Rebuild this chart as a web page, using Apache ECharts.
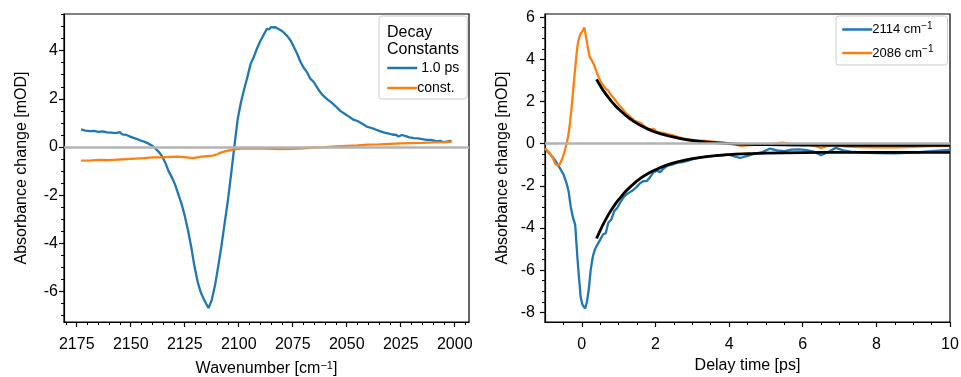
<!DOCTYPE html>
<html><head><meta charset="utf-8">
<script src="https://cdn.jsdelivr.net/npm/echarts@6/dist/echarts.min.js"></script>
<style>html,body{margin:0;padding:0;background:#fff}#c{width:961px;height:377px}</style>
</head><body><div id="c"></div>
<script>
// ---- Left panel: decay-associated spectra ----
const specWn = [2173,2171,2169,2167,2165,2163,2161,2159,2157,2155,2154,2152,2150,2148,2146,2144,2142,2140,2138.5,2137,2135.5,2134,2132.5,2131,2129.5,2128,2126.5,2125,2123.5,2122,2120.5,2119,2117.5,2116,2114,2112.5,2111,2109.5,2108,2106.5,2105,2103.5,2102,2100.5,2099,2097.5,2096,2094.5,2093,2091.5,2090,2088.5,2087,2086,2085,2084,2083,2082,2080.5,2079,2077.5,2076,2074.5,2073,2071.5,2070,2068.5,2067,2065.5,2064,2062.5,2061,2059,2057,2055,2053,2051,2049,2047,2045,2043,2041,2039,2037,2035,2033,2031,2029,2027,2026,2024.5,2023,2021,2019,2017,2015,2013,2011,2009.5,2008,2006.5,2005,2003,2001.5];
const spec1ps = [0.73,0.68,0.66,0.67,0.63,0.65,0.61,0.60,0.58,0.62,0.53,0.50,0.42,0.36,0.29,0.23,0.15,0.05,-0.07,-0.20,-0.38,-0.65,-1.0,-1.25,-1.55,-1.95,-2.35,-2.85,-3.45,-4.15,-4.95,-5.6,-6.05,-6.35,-6.68,-6.35,-5.75,-4.95,-4.10,-3.15,-2.20,-1.10,0.05,1.15,1.85,2.40,2.90,3.45,3.75,4.10,4.40,4.65,4.90,4.88,4.98,4.96,4.97,4.92,4.85,4.74,4.60,4.42,4.15,3.88,3.55,3.30,3.12,2.85,2.72,2.52,2.30,2.14,1.98,1.84,1.68,1.50,1.38,1.26,1.14,1.08,0.98,0.86,0.80,0.74,0.67,0.61,0.57,0.52,0.50,0.44,0.50,0.46,0.40,0.37,0.36,0.33,0.30,0.30,0.27,0.24,0.25,0.20,0.24,0.26];
const constWn = [2173,2168,2164,2160,2156,2152,2148,2144,2140,2136,2132,2128,2124,2121,2118,2115,2112,2110,2108,2106,2104,2102,2099,2096,2092,2088,2084,2080,2076,2072,2068,2064,2060,2055,2050,2045,2040,2035,2030,2025,2020,2015,2010,2005,2001.5];
const specConst = [-0.56,-0.55,-0.53,-0.54,-0.52,-0.50,-0.48,-0.46,-0.43,-0.43,-0.41,-0.40,-0.43,-0.46,-0.41,-0.38,-0.36,-0.30,-0.22,-0.17,-0.13,-0.10,-0.07,-0.06,-0.06,-0.07,-0.08,-0.09,-0.08,-0.06,-0.04,-0.02,0.00,0.03,0.05,0.07,0.10,0.11,0.13,0.15,0.16,0.17,0.19,0.20,0.22];
const specNames = ['1.0 ps', 'const.'];

// ---- Right panel: kinetic traces ----
const delay2114 = [-1.0,-0.86,-0.72,-0.6,-0.5,-0.42,-0.36,-0.3,-0.24,-0.18,-0.12,-0.08,-0.03,0.02,0.09,0.14,0.19,0.24,0.3,0.36,0.42,0.5,0.58,0.65,0.72,0.8,0.88,0.96,1.04,1.13,1.22,1.31,1.4,1.49,1.58,1.67,1.76,1.85,1.95,2.04,2.13,2.22,2.31,2.45,2.6,2.75,2.9,3.05,3.2,3.4,3.6,3.8,4.0,4.15,4.3,4.5,4.7,4.9,5.1,5.3,5.5,5.7,5.9,6.1,6.3,6.5,6.7,6.9,7.1,7.3,7.6,8.0,8.5,9.0,9.5,10.0];
const trace2114 = [-0.25,-0.5,-0.8,-1.15,-1.45,-1.85,-2.25,-3.0,-3.5,-3.85,-5.4,-6.3,-7.3,-7.65,-7.82,-7.5,-6.9,-6.0,-5.35,-5.0,-4.8,-4.55,-4.3,-4.25,-3.75,-3.6,-3.2,-3.05,-2.8,-2.55,-2.4,-2.3,-2.2,-2.05,-1.88,-1.78,-1.78,-1.6,-1.35,-1.28,-1.35,-1.18,-1.06,-1.0,-0.9,-0.87,-0.8,-0.72,-0.66,-0.6,-0.58,-0.55,-0.52,-0.6,-0.68,-0.58,-0.47,-0.4,-0.24,-0.32,-0.35,-0.28,-0.27,-0.31,-0.38,-0.55,-0.38,-0.2,-0.32,-0.38,-0.42,-0.45,-0.46,-0.43,-0.36,-0.3];
const delay2086 = [-1.0,-0.9,-0.8,-0.72,-0.66,-0.6,-0.54,-0.48,-0.42,-0.37,-0.32,-0.27,-0.2,-0.14,-0.1,-0.04,0.02,0.07,0.1,0.16,0.21,0.27,0.33,0.4,0.47,0.54,0.63,0.72,0.8,0.9,1.0,1.1,1.2,1.31,1.42,1.53,1.62,1.72,1.82,1.95,2.05,2.15,2.3,2.45,2.6,2.75,2.9,3.05,3.25,3.45,3.7,3.95,4.15,4.3,4.5,4.7,5.0,5.2,5.45,5.65,5.9,6.1,6.3,6.5,6.7,6.9,7.2,7.6,8.0,8.5,9.0,9.5,10.0];
const trace2086 = [-0.22,-0.4,-0.62,-0.95,-1.05,-0.98,-0.75,-0.45,-0.05,0.35,1.0,1.85,3.2,4.3,4.85,5.2,5.35,5.5,5.52,4.6,4.15,3.95,3.75,3.4,3.1,2.85,2.65,2.5,2.3,2.08,1.85,1.65,1.45,1.28,1.1,1.02,0.95,0.8,0.68,0.7,0.55,0.52,0.47,0.4,0.32,0.25,0.2,0.16,0.14,0.12,0.06,0.02,-0.02,-0.1,-0.08,-0.05,-0.03,0.0,0.05,0.0,-0.03,-0.02,-0.1,-0.2,-0.1,-0.06,-0.14,-0.16,-0.17,-0.17,-0.15,-0.12,-0.1];
const fitT = [0.4,0.5,0.6,0.7,0.8,0.9,1.0,1.2,1.4,1.6,1.8,2.0,2.3,2.6,3.0,3.5,4.0,4.5,5.0,6.0,7.0,8.0,10.0];
const fit2114 = [-4.50,-4.11,-3.76,-3.44,-3.15,-2.89,-2.66,-2.25,-1.92,-1.64,-1.42,-1.24,-1.02,-0.86,-0.71,-0.59,-0.52,-0.48,-0.45,-0.425,-0.415,-0.412,-0.41];
const fit2086 = [3.05,2.75,2.48,2.24,2.02,1.82,1.64,1.33,1.07,0.86,0.69,0.55,0.39,0.27,0.15,0.06,0.005,-0.03,-0.05,-0.068,-0.076,-0.078,-0.08];
const traceNames = ['2114', '2086'];

// ---- Tick labels ----
const wnTicks = [2175,2150,2125,2100,2075,2050,2025,2000];
const specYTicks = [-6,-4,-2,0,2,4];
const delayTicks = [0,2,4,6,8,10];
const traceYTicks = [-8,-6,-4,-2,0,2,4,6];

function zip(a, b) { return a.map((v, i) => [v, b[i]]); }
function steps(from, to, step) { const r = []; for (let v = from; v <= to + 1e-9; v += step) r.push(Math.round(v * 1000) / 1000); return r; }

const FONT = '"Liberation Sans", Arial, Helvetica, sans-serif';
const BLUE = '#1f77b4', ORANGE = '#ff7f0e';
const supRich = { sup: { fontSize: 11, fontFamily: FONT, color: '#000', padding: [0, 0, 7, 0] } };

function majorAxis(gridIndex, min, max, inverse, ticks, name, gap, labelMargin, isX) {
  return {
    type: 'value', gridIndex, min, max, inverse,
    position: isX ? 'bottom' : 'left',
    axisLine: { show: true, onZero: false, lineStyle: { color: '#000', width: 1.2 } },
    axisTick: { show: true, inside: false, length: 5, customValues: ticks, lineStyle: { color: '#000', width: 1.2 } },
    axisLabel: { show: true, customValues: ticks, margin: labelMargin, fontSize: 16, color: '#000', fontFamily: FONT,
      formatter: v => String(v) },
    splitLine: { show: false },
    name, nameLocation: 'middle', nameGap: gap,
    nameTextStyle: { fontSize: 16, color: '#000', fontFamily: FONT, rich: supRich }
  };
}
function minorAxis(gridIndex, min, max, inverse, ticks, isX) {
  return {
    type: 'value', gridIndex, min, max, inverse,
    position: isX ? 'bottom' : 'left',
    axisLine: { show: false, onZero: false },
    axisTick: { show: true, inside: false, length: 3, customValues: ticks, lineStyle: { color: '#000', width: 1 } },
    axisLabel: { show: false },
    splitLine: { show: false }
  };
}

const zeroLine = (xi, yi) => ({
  type: 'line', xAxisIndex: xi, yAxisIndex: yi, data: [], z: 1, silent: true,
  markLine: { silent: true, symbol: 'none', label: { show: false }, animation: false,
    lineStyle: { color: '#b3b3b3', width: 2.5, type: 'solid' }, data: [{ yAxis: 0 }] }
});
const lineSeries = (name, xi, yi, data, color, width, z) => ({
  type: 'line', name, xAxisIndex: xi, yAxisIndex: yi, data, symbol: 'none', z,
  lineStyle: { color, width }, itemStyle: { color }, animation: false
});

const gridBase = { top: 14, width: 405, height: 308, show: true, borderColor: '#000', borderWidth: 1.2,
  backgroundColor: 'transparent', containLabel: false, outerBoundsMode: 'none' };

const chart = echarts.init(document.getElementById('c'), null, { renderer: 'canvas' });
chart.setOption({
  animation: false,
  backgroundColor: '#fff',
  textStyle: { fontFamily: FONT },
  grid: [
    Object.assign({ left: 64 }, gridBase),
    Object.assign({ left: 545 }, gridBase)
  ],
  xAxis: [
    majorAxis(0, 1993.4, 2180.9, true, wnTicks, 'Wavenumber [cm{sup|−1}]', 38, 15, true),
    minorAxis(0, 1993.4, 2180.9, true, steps(1995, 2180, 5), true),
    majorAxis(1, -1, 10, false, delayTicks, 'Delay time [ps]', 36, 15, true),
    minorAxis(1, -1, 10, false, steps(-0.5, 9.5, 0.5), true)
  ],
  yAxis: [
    majorAxis(0, -7.26, 5.52, false, specYTicks, 'Absorbance change [mOD]', 34, 6, false),
    minorAxis(0, -7.26, 5.52, false, steps(-7, 5.5, 0.5), false),
    majorAxis(1, -8.46, 6.15, false, traceYTicks, 'Absorbance change [mOD]', 34, 10, false),
    minorAxis(1, -8.46, 6.15, false, steps(-8, 6, 0.5), false)
  ],
  title: [{
    text: 'Decay\nConstants', left: 382, top: 19,
    textStyle: { fontSize: 16, fontWeight: 'normal', color: '#000', fontFamily: FONT, lineHeight: 17 }
  }],
  legend: [
    {
      data: specNames, orient: 'vertical', left: 379, top: 16,
      padding: [45, 8, 4, 7], itemGap: 6, itemWidth: 30, itemHeight: 14,
      backgroundColor: 'rgba(255,255,255,0.85)', borderColor: '#cccccc', borderWidth: 1, borderRadius: 3,
      itemStyle: { opacity: 0 }, lineStyle: { width: 2.5 },
      formatter: n => (n === '1.0 ps' ? ' ' + n : n),
      textStyle: { fontSize: 14, color: '#000', fontFamily: FONT, lineHeight: 14, padding: [0, 0, 0, -5] },
      selectedMode: false
    },
    {
      data: traceNames, orient: 'vertical', left: 836, top: 16,
      padding: [5, 14, 4, 5], itemGap: 7, itemWidth: 30, itemHeight: 16,
      backgroundColor: 'rgba(255,255,255,0.85)', borderColor: '#cccccc', borderWidth: 1, borderRadius: 3,
      itemStyle: { opacity: 0 }, lineStyle: { width: 2.5 },
      formatter: n => n + ' cm{sup|−1}',
      textStyle: { fontSize: 13, color: '#000', fontFamily: FONT, lineHeight: 16, padding: [0, 0, 0, -5],
        rich: { sup: { fontSize: 10, color: '#000', fontFamily: FONT, padding: [0, 0, 7, 0] } } },
      selectedMode: false
    }
  ],
  series: [
    zeroLine(0, 0),
    lineSeries(specNames[0], 0, 0, zip(specWn, spec1ps), BLUE, 2.3, 3),
    lineSeries(specNames[1], 0, 0, zip(constWn, specConst), ORANGE, 2.3, 3),
    zeroLine(2, 2),
    lineSeries(traceNames[0], 2, 2, zip(delay2114, trace2114), BLUE, 2.3, 3),
    lineSeries(traceNames[1], 2, 2, zip(delay2086, trace2086), ORANGE, 2.3, 3),
    Object.assign(lineSeries('fit2114', 2, 2, zip(fitT, fit2114), '#000', 2.8, 4), { smooth: 0.4 }),
    Object.assign(lineSeries('fit2086', 2, 2, zip(fitT, fit2086), '#000', 2.8, 4), { smooth: 0.4 })
  ]
});
</script>
</body></html>
